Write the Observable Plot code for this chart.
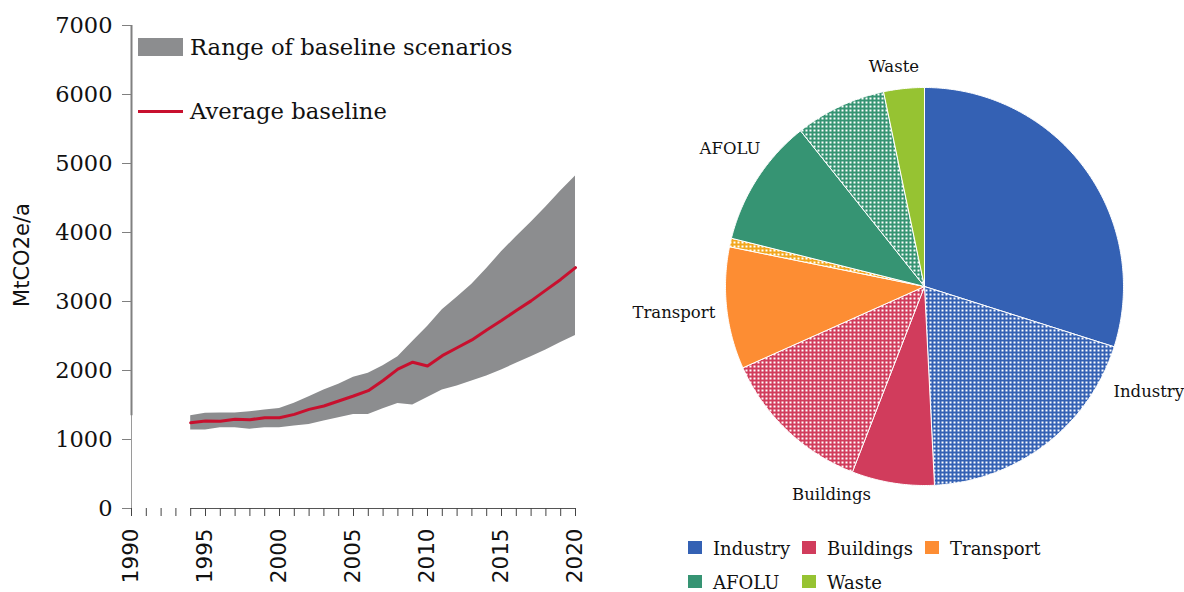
<!DOCTYPE html>
<html>
<head>
<meta charset="utf-8">
<script src="https://cdn.jsdelivr.net/npm/d3@7"></script>
<script src="https://cdn.jsdelivr.net/npm/@observablehq/plot@0.6"></script>
<style>
  html, body { margin: 0; padding: 0; background: #fff; }
  #wrap { position: relative; width: 1184px; height: 592px; overflow: hidden; font-family: "DejaVu Serif", serif; color: #111; }
  #left { position: absolute; left: 0; top: 0; }
  #right { position: absolute; left: 600px; top: 0; }
  .ytitle { position: absolute; left: 22px; top: 255px; transform: translate(-50%, -50%) rotate(-90deg); font-family: "DejaVu Sans", sans-serif; font-size: 21px; white-space: nowrap; line-height: 1; }
  .ltext { position: absolute; left: 190px; font-size: 22.7px; line-height: 1; white-space: nowrap; }
  .lswatch { position: absolute; left: 138px; }
  #pielegend { position: absolute; left: 688px; top: 532px; display: grid; grid-template-columns: auto auto auto; column-gap: 12px; grid-auto-rows: 34px; font-size: 18px; line-height: 34px; }
  #pielegend .item { display: flex; align-items: center; white-space: nowrap; }
  #pielegend .sw { width: 14px; height: 13px; margin-right: 11px; position: relative; top: -2px; }
</style>
</head>
<body>
<svg id="patterns" width="0" height="0" style="position:absolute"><defs id="patdefs"></defs></svg>
<div id="wrap">
  <div id="left"></div>
  <div id="right"></div>
  <div class="ytitle">MtCO2e/a</div>
  <div class="lswatch" style="top:38px;width:45px;height:18px;background:#8c8d8f"></div>
  <div class="ltext" style="top:35.5px">Range of baseline scenarios</div>
  <div class="lswatch" style="top:110px;width:45px;height:3px;background:#c8102e"></div>
  <div class="ltext" style="top:99.5px">Average baseline</div>
  <div id="pielegend"></div>
</div>
<script>
// ---------- Left chart data ----------
const years = [1994,1995,1996,1997,1998,1999,2000,2001,2002,2003,2004,2005,2006,2007,2008,2009,2010,2011,2012,2013,2014,2015,2016,2017,2018,2019,2020];
const rangeHigh = [1345,1379,1384,1384,1403,1427,1451,1524,1621,1717,1800,1901,1960,2070,2200,2420,2637,2879,3060,3250,3480,3720,3940,4150,4370,4600,4820];
const rangeLow  = [1137,1137,1171,1171,1147,1171,1171,1195,1219,1268,1316,1364,1364,1445,1520,1500,1610,1717,1776,1848,1921,2008,2104,2201,2298,2404,2506];
const averageBaseline = [1243,1268,1263,1292,1287,1316,1316,1364,1437,1485,1558,1630,1708,1855,2020,2120,2065,2215,2330,2443,2588,2724,2869,3009,3165,3320,3490];
const yTicks = [0,1000,2000,3000,4000,5000,6000,7000];
const xLabelYears = [1990,1995,2000,2005,2010,2015,2020];
const xDomain = [1990, 2020];

// ---------- Pie chart data ----------
const sectors = ["Industry","Buildings","Transport","AFOLU","Waste"];
const sectorColors = ["#3461b4","#d13c5c","#fd8d33","#369473","#96c332"];
const dottedColors = ["#3461b4","#d13c5c","#f2a71f","#369473","#96c332"];
const shareSolid  = [29.9, 6.7, 9.9, 10.4, 3.3];
const shareDotted = [19.3, 12.4, 0.7, 7.4, 0];

// ---------- Left chart ----------
const bandData = years.map((year, i) => ({year, low: rangeLow[i], high: rangeHigh[i], avg: averageBaseline[i]}));
const allYears = d3.range(xDomain[0], xDomain[1] + 1);

const left = Plot.plot({
  width: 600, height: 592,
  marginLeft: 131, marginRight: 25, marginTop: 25, marginBottom: 84,
  x: {domain: xDomain},
  y: {domain: [yTicks[0], yTicks[yTicks.length - 1]]},
  style: {background: "transparent", overflow: "visible"},
  marks: [
    Plot.areaY(bandData, {x: "year", y1: "low", y2: "high", fill: "#8c8d8f"}),
    Plot.line(bandData, {x: "year", y: "avg", stroke: "#c8102e", strokeWidth: 3}),
    Plot.ruleX([xDomain[0]], {stroke: "#9a9a9a", strokeWidth: 1}),
    Plot.ruleX([xDomain[0]], {y1: rangeHigh[0], y2: yTicks[yTicks.length - 1], stroke: "#808080", strokeWidth: 2}),
    Plot.ruleY([0], {x1: years[0], x2: years[years.length - 1], stroke: "#555", strokeWidth: 1}),
    Plot.axisY({ticks: yTicks, tickSize: 9, tickPadding: 10, label: null, stroke: "#808080", fill: "#111",
      fontSize: 22.5, fontFamily: "DejaVu Serif", tickFormat: d => String(d)}),
    Plot.axisX({ticks: allYears, tickSize: 8, tickPadding: 12, tickRotate: -90, label: null, stroke: "#444", fill: "#111",
      fontSize: 21.5, fontFamily: "DejaVu Sans", tickFormat: d => xLabelYears.includes(d) ? String(d) : ""})
  ]
});
document.getElementById("left").appendChild(left);

// ---------- Pie chart ----------
const slices = [];
sectors.forEach((s, i) => {
  slices.push({sector: s, idx: i, dotted: false, value: shareSolid[i], color: sectorColors[i]});
  slices.push({sector: s, idx: i, dotted: true, value: shareDotted[i], color: dottedColors[i]});
});
const total = d3.sum(slices, d => d.value);
let acc = 0;
slices.forEach(d => { d.a0 = acc / total * 2 * Math.PI; acc += d.value; d.a1 = acc / total * 2 * Math.PI; });

// dotted patterns
const defs = document.getElementById("patdefs");
sectors.forEach((s, i) => {
  defs.insertAdjacentHTML("beforeend",
    `<pattern id="dots-${i}" width="4" height="4" patternUnits="userSpaceOnUse">` +
    `<rect width="4" height="4" fill="${dottedColors[i]}"/>` +
    `<rect x="1" y="1" width="2" height="2" fill="#fff"/></pattern>`);
});
defs.parentNode.innerHTML = defs.parentNode.innerHTML;

function arcPoints(d) {
  const pts = [{x: 0, y: 0}];
  const n = Math.max(2, Math.ceil((d.a1 - d.a0) / (Math.PI / 360)));
  for (let k = 0; k <= n; k++) {
    const a = d.a0 + (d.a1 - d.a0) * k / n;
    pts.push({x: Math.sin(a), y: Math.cos(a)});
  }
  pts.push({x: 0, y: 0});
  return pts;
}

const labelStyle = {
  Industry:  {anchor: "start",  dx: -10, dy: 110},
  Buildings: {anchor: "middle", dx: 11,  dy: 39},
  Transport: {anchor: "end",    dx: -11, dy: 9},
  AFOLU:     {anchor: "end",    dx: -26, dy: 6},
  Waste:     {anchor: "middle", dx: -10, dy: -22}
};
const labels = sectors.map(s => {
  const ss = slices.filter(d => d.sector === s);
  const mid = (ss[0].a0 + ss[ss.length - 1].a1) / 2;
  return {label: s, x: Math.sin(mid), y: Math.cos(mid)};
});

const right = Plot.plot({
  width: 584, height: 520,
  marginLeft: 125, marginRight: 61, marginTop: 87, marginBottom: 35,
  x: {domain: [-1, 1], axis: null},
  y: {domain: [-1, 1], axis: null},
  style: {background: "transparent", overflow: "visible"},
  marks: [
    ...slices.filter(d => d.value > 0).map(d =>
      Plot.line(arcPoints(d), {x: "x", y: "y", fill: d.dotted ? `url(#dots-${d.idx})` : d.color,
        stroke: "#fff", strokeWidth: 1, strokeLinejoin: "round"})),
    ...labels.map(l => Plot.text([l], {x: "x", y: "y", text: "label",
      textAnchor: labelStyle[l.label].anchor, dx: labelStyle[l.label].dx, dy: labelStyle[l.label].dy,
      fontFamily: "DejaVu Serif", fontSize: 16.5, fill: "#111"}))
  ]
});
document.getElementById("right").appendChild(right);

// ---------- Pie legend ----------
const leg = document.getElementById("pielegend");
sectors.forEach((s, i) => {
  const it = document.createElement("div");
  it.className = "item";
  it.innerHTML = `<span class="sw" style="background:${sectorColors[i]}"></span><span>${s}</span>`;
  leg.appendChild(it);
});
</script>
</body>
</html>
